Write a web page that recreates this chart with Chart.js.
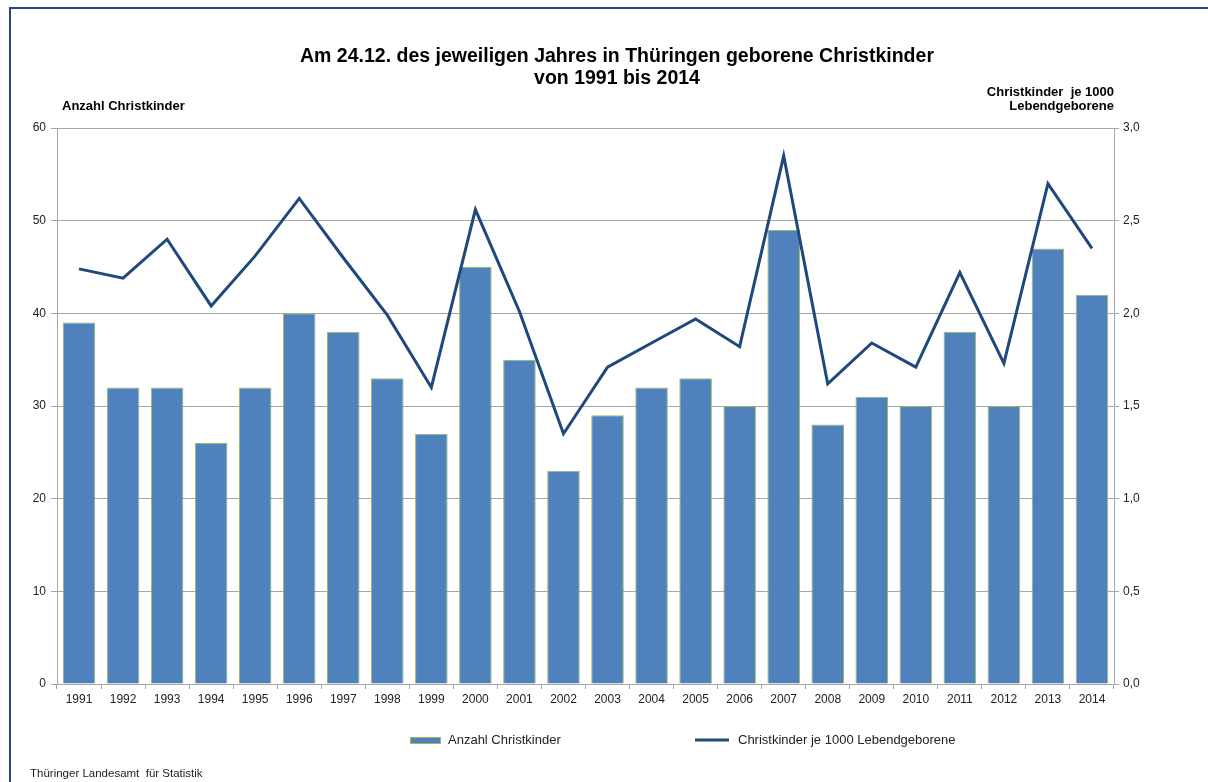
<!DOCTYPE html>
<html>
<head>
<meta charset="utf-8">
<script src="https://cdn.jsdelivr.net/npm/chart.js@4/dist/chart.umd.min.js"></script>
<style>
  body { margin: 0; background: #fff; }
  #wrap { width: 1208px; height: 782px; position: relative; }
</style>
</head>
<body>
<div id="wrap"><canvas id="christkinderChart"></canvas></div>
<script>
// Daten
var jahre = ['1991','1992','1993','1994','1995','1996','1997','1998','1999','2000','2001','2002',
             '2003','2004','2005','2006','2007','2008','2009','2010','2011','2012','2013','2014'];
var anzahlChristkinder = [39, 32, 32, 26, 32, 40, 38, 33, 27, 45, 35, 23,
                          29, 32, 33, 30, 49, 28, 31, 30, 38, 30, 47, 42];
var jeTausend = [2.24, 2.19, 2.40, 2.04, 2.31, 2.62, 2.30, 1.99, 1.60, 2.56, 2.01, 1.35,
                 1.71, 1.84, 1.97, 1.82, 2.85, 1.62, 1.84, 1.71, 2.22, 1.73, 2.70, 2.35];
var titelZeilen = ['Am 24.12. des jeweiligen Jahres in Thüringen geborene Christkinder', 'von 1991 bis 2014'];
var labelBalken = 'Anzahl Christkinder';
var labelLinie = 'Christkinder je 1000 Lebendgeborene';

var balkenFarbe = '#4F81BD';
var linienFarbe = '#1F497D';
var gitterFarbe = '#A6A6A6';
var schrift = '"Liberation Sans", Arial, sans-serif';

// Rahmen, Titel, Achsentitel, Legende und Quelle zeichnen
var extrasPlugin = {
    id: 'extras',
    afterDraw: function(chart) {
        var ctx = chart.ctx;
        ctx.save();
        // Rahmen links und oben
        ctx.strokeStyle = '#27477F';
        ctx.lineWidth = 2;
        ctx.beginPath();
        ctx.moveTo(10, 782);
        ctx.lineTo(10, 8);
        ctx.lineTo(1208, 8);
        ctx.stroke();

        // Titel
        ctx.fillStyle = '#000';
        ctx.textAlign = 'center';
        ctx.textBaseline = 'middle';
        ctx.font = 'bold 19.5px ' + schrift;
        ctx.fillText(titelZeilen[0], 617, 57);
        ctx.fillText(titelZeilen[1], 617, 79);

        // Achsentitel
        ctx.font = 'bold 13px ' + schrift;
        ctx.textAlign = 'left';
        ctx.fillText('Anzahl Christkinder', 62, 106);
        ctx.textAlign = 'right';
        ctx.fillText('Christkinder  je 1000', 1114, 92);
        ctx.fillText('Lebendgeborene', 1114, 106);

        // Legende
        ctx.fillStyle = balkenFarbe;
        ctx.fillRect(410, 737, 30, 6);
        ctx.strokeStyle = '#9BBB59';
        ctx.lineWidth = 1;
        ctx.strokeRect(410.5, 737.5, 30, 6);
        ctx.strokeStyle = linienFarbe;
        ctx.lineWidth = 3;
        ctx.beginPath();
        ctx.moveTo(695, 740);
        ctx.lineTo(729, 740);
        ctx.stroke();
        ctx.fillStyle = '#222';
        ctx.font = '13px ' + schrift;
        ctx.textAlign = 'left';
        ctx.fillText(labelBalken, 448, 740);
        ctx.fillText(labelLinie, 738, 740);

        // Quelle
        ctx.font = '11.5px ' + schrift;
        ctx.fillText('Thüringer Landesamt  für Statistik', 30, 774);
        ctx.restore();
    }
};

const data = {
    labels: jahre,
    datasets: [{
        type: 'line',
        label: labelLinie,
        data: jeTausend,
        yAxisID: 'y1',
        borderColor: linienFarbe,
        borderWidth: 3,
        pointRadius: 0,
        tension: 0,
        order: 0
    }, {
        type: 'bar',
        label: labelBalken,
        data: anzahlChristkinder,
        yAxisID: 'y',
        backgroundColor: balkenFarbe,
        borderColor: '#9BBB59',
        borderWidth: 1,
        barPercentage: 0.74,
        categoryPercentage: 1.0,
        order: 1
    }]
};

const config = {
    data: data,
    plugins: [extrasPlugin],
    options: {
        responsive: false,
        animation: false,
        layout: { padding: { top: 128, left: 0, right: 0, bottom: 0 } },
        plugins: {
            legend: { display: false },
            title: { display: false },
            tooltip: { enabled: false }
        },
        scales: {
            x: {
                offset: true,
                grid: {
                    offset: true,
                    drawOnChartArea: false,
                    color: gitterFarbe,
                    tickLength: 5
                },
                border: { color: gitterFarbe },
                ticks: { color: '#222', font: { family: schrift, size: 12 }, padding: 3, maxRotation: 0 },
                afterFit: function(scale) { scale.height = 98; }
            },
            y: {
                position: 'left',
                min: 0,
                max: 60,
                ticks: {
                    stepSize: 10,
                    color: '#222',
                    font: { family: schrift, size: 12 },
                    padding: 5
                },
                grid: { color: gitterFarbe, tickLength: 6 },
                border: { color: gitterFarbe },
                afterFit: function(scale) { scale.width = 57; }
            },
            y1: {
                position: 'right',
                min: 0,
                max: 3,
                ticks: {
                    stepSize: 0.5,
                    color: '#222',
                    font: { family: schrift, size: 12 },
                    padding: 4,
                    callback: function(v) { return v.toFixed(1).replace('.', ','); }
                },
                grid: { drawOnChartArea: false, color: gitterFarbe, tickLength: 5 },
                border: { color: gitterFarbe },
                afterFit: function(scale) { scale.width = 94; }
            }
        }
    }
};

const canvas = document.getElementById('christkinderChart');
canvas.width = 1208;
canvas.height = 782;
new Chart(canvas.getContext('2d'), config);
</script>
</body>
</html>
